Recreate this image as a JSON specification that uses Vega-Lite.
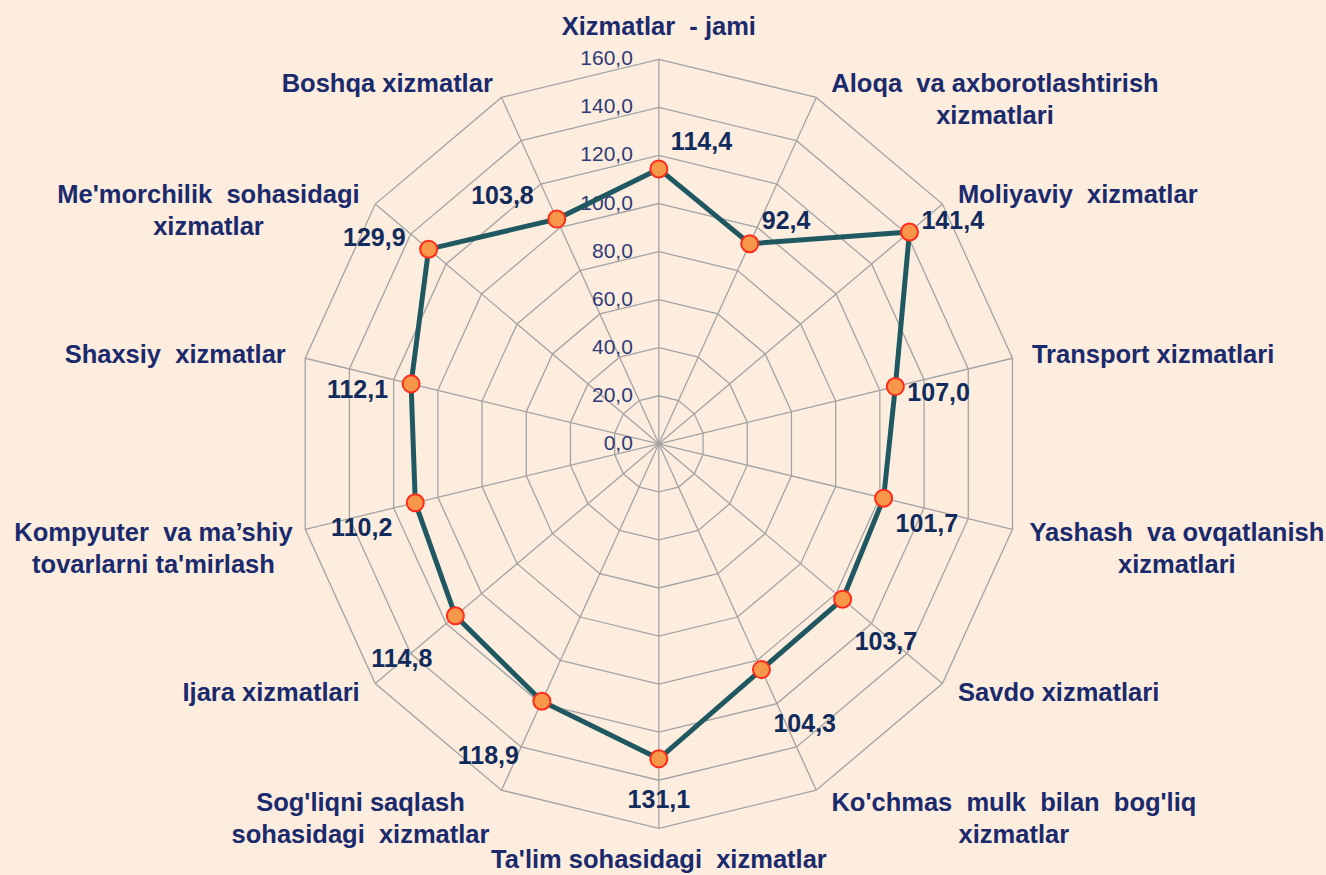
{
  "$schema": "https://vega.github.io/schema/vega-lite/v6.json",
  "width": 1326,
  "height": 875,
  "padding": 0,
  "autosize": {"type": "none"},
  "background": "#FDEDDE",
  "config": {"view": {"stroke": null}, "font": "Liberation Sans"},
  "datasets": {
    "svc": [
      {"i": 0, "cat": "Xizmatlar\u00a0 - jami", "v": 114.4},
      {"i": 1, "cat": "Aloqa\u00a0 va axborotlashtirish\nxizmatlari", "v": 92.4},
      {"i": 2, "cat": "Moliyaviy\u00a0 xizmatlar", "v": 141.4},
      {"i": 3, "cat": "Transport xizmatlari", "v": 107.0},
      {"i": 4, "cat": "Yashash\u00a0 va ovqatlanish\nxizmatlari", "v": 101.7},
      {"i": 5, "cat": "Savdo xizmatlari", "v": 103.7},
      {"i": 6, "cat": "Ko'chmas\u00a0 mulk\u00a0 bilan\u00a0 bog'liq\nxizmatlar", "v": 104.3},
      {"i": 7, "cat": "Ta'lim sohasidagi\u00a0 xizmatlar", "v": 131.1},
      {"i": 8, "cat": "Sog'liqni saqlash\nsohasidagi\u00a0 xizmatlar", "v": 118.9},
      {"i": 9, "cat": "Ijara xizmatlari", "v": 114.8},
      {"i": 10, "cat": "Kompyuter\u00a0 va ma’shiy\ntovarlarni ta'mirlash", "v": 110.2},
      {"i": 11, "cat": "Shaxsiy\u00a0 xizmatlar", "v": 112.1},
      {"i": 12, "cat": "Me'morchilik\u00a0 sohasidagi\nxizmatlar", "v": 129.9},
      {"i": 13, "cat": "Boshqa xizmatlar", "v": 103.8}
    ],
    "ticks": [
      {"lv": 0}, {"lv": 20}, {"lv": 40}, {"lv": 60}, {"lv": 80},
      {"lv": 100}, {"lv": 120}, {"lv": 140}, {"lv": 160}
    ]
  },
  "encoding": {
    "x": {"field": "px", "type": "quantitative", "scale": {"domain": [-290.63, 294.29], "nice": false, "zero": false}, "axis": null},
    "y": {"field": "py", "type": "quantitative", "scale": {"domain": [-179.44, 184.69], "nice": false, "zero": false}, "axis": null}
  },
  "layer": [
    {
      "data": {"name": "svc"},
      "transform": [
        {"calculate": "datum.i*2*PI/14", "as": "a"},
        {"calculate": "160*sin(datum.a)", "as": "px"},
        {"calculate": "160*cos(datum.a)", "as": "py"}
      ],
      "mark": {"type": "rule", "color": "#A3A3A3", "strokeWidth": 1.3},
      "encoding": {"x2": {"datum": 0}, "y2": {"datum": 0}}
    },
    {
      "data": {"name": "svc"},
      "transform": [
        {"calculate": "datum.i*2*PI/14", "as": "a"},
        {"calculate": "[20,40,60,80,100,120,140,160]", "as": "lvs"},
        {"flatten": ["lvs"]},
        {"calculate": "datum.lvs*sin(datum.a)", "as": "px"},
        {"calculate": "datum.lvs*cos(datum.a)", "as": "py"}
      ],
      "mark": {"type": "line", "interpolate": "linear-closed", "color": "#A3A3A3", "strokeWidth": 1.3},
      "encoding": {
        "detail": {"field": "lvs", "type": "nominal"},
        "order": {"field": "i", "type": "quantitative"}
      }
    },
    {
      "data": {"name": "ticks"},
      "transform": [
        {"calculate": "0", "as": "px"},
        {"calculate": "datum.lv", "as": "py"},
        {"calculate": "replace(format(datum.lv, '.1f'), '.', ',')", "as": "lab"}
      ],
      "mark": {"type": "text", "align": "right", "baseline": "middle", "dx": -26, "fontSize": 21, "color": "#2E3B78"},
      "encoding": {"text": {"field": "lab", "type": "nominal"}}
    },
    {
      "data": {"name": "svc"},
      "transform": [
        {"calculate": "datum.i*2*PI/14", "as": "a"},
        {"calculate": "datum.v*sin(datum.a)", "as": "px"},
        {"calculate": "datum.v*cos(datum.a)", "as": "py"}
      ],
      "mark": {"type": "line", "interpolate": "linear-closed", "color": "#205862", "strokeWidth": 5},
      "encoding": {"order": {"field": "i", "type": "quantitative"}}
    },
    {
      "data": {"name": "svc"},
      "transform": [
        {"calculate": "datum.i*2*PI/14", "as": "a"},
        {"calculate": "datum.v*sin(datum.a)", "as": "px"},
        {"calculate": "datum.v*cos(datum.a)", "as": "py"}
      ],
      "mark": {"type": "point", "shape": "circle", "filled": true, "size": 290, "fill": "#F7974A", "stroke": "#FF2B1B", "strokeWidth": 2, "opacity": 1}
    },
    {
      "data": {"name": "svc"},
      "transform": [
        {"filter": "datum.i <= 6"},
        {"calculate": "datum.i*2*PI/14", "as": "a"},
        {"calculate": "datum.v*sin(datum.a)", "as": "px"},
        {"calculate": "(datum.v+17.9)*cos(datum.a)", "as": "py"},
        {"calculate": "replace(format(datum.v, '.1f'), '.', ',')", "as": "lab"}
      ],
      "mark": {"type": "text", "align": "left", "baseline": "middle", "dx": 12, "dy": 16, "fontSize": 25, "fontWeight": "bold", "color": "#102B5C"},
      "encoding": {"text": {"field": "lab", "type": "nominal"}}
    },
    {
      "data": {"name": "svc"},
      "transform": [
        {"filter": "datum.i == 7"},
        {"calculate": "datum.i*2*PI/14", "as": "a"},
        {"calculate": "datum.v*sin(datum.a)", "as": "px"},
        {"calculate": "(datum.v+17)*cos(datum.a)", "as": "py"},
        {"calculate": "replace(format(datum.v, '.1f'), '.', ',')", "as": "lab"}
      ],
      "mark": {"type": "text", "align": "center", "baseline": "middle", "fontSize": 25, "fontWeight": "bold", "color": "#102B5C"},
      "encoding": {"text": {"field": "lab", "type": "nominal"}}
    },
    {
      "data": {"name": "svc"},
      "transform": [
        {"filter": "datum.i >= 8"},
        {"calculate": "datum.i*2*PI/14", "as": "a"},
        {"calculate": "datum.v*sin(datum.a)", "as": "px"},
        {"calculate": "(datum.v+17.9)*cos(datum.a)", "as": "py"},
        {"calculate": "replace(format(datum.v, '.1f'), '.', ',')", "as": "lab"}
      ],
      "mark": {"type": "text", "align": "right", "baseline": "middle", "dx": -23, "dy": 16, "fontSize": 25, "fontWeight": "bold", "color": "#102B5C"},
      "encoding": {"text": {"field": "lab", "type": "nominal"}}
    },
    {
      "data": {"name": "svc"},
      "transform": [
        {"filter": "indexof([2,3,5], datum.i) >= 0"},
        {"calculate": "datum.i*2*PI/14", "as": "a"},
        {"calculate": "168.8*sin(datum.a)", "as": "px"},
        {"calculate": "166*cos(datum.a)", "as": "py"}
      ],
      "mark": {"type": "text", "align": "left", "baseline": "middle", "fontSize": 25.5, "fontWeight": "bold", "color": "#1A2A6C"},
      "encoding": {"text": {"field": "cat", "type": "nominal"}}
    },
    {
      "data": {"name": "svc"},
      "transform": [
        {"filter": "indexof([9,11,13], datum.i) >= 0"},
        {"calculate": "datum.i*2*PI/14", "as": "a"},
        {"calculate": "168.8*sin(datum.a)", "as": "px"},
        {"calculate": "166*cos(datum.a)", "as": "py"}
      ],
      "mark": {"type": "text", "align": "right", "baseline": "middle", "fontSize": 25.5, "fontWeight": "bold", "color": "#1A2A6C"},
      "encoding": {"text": {"field": "cat", "type": "nominal"}}
    },
    {
      "data": {"name": "svc"},
      "transform": [
        {"filter": "indexof([0,1,4,6,7,8,10,12], datum.i) >= 0"},
        {"calculate": "datum.i*2*PI/14", "as": "a"},
        {"calculate": "split(datum.cat, '\\n')", "as": "lines"},
        {"calculate": "max(length(datum.lines[0]), length(datum.lines[1] || ''))*6.3/2.267", "as": "hw"},
        {"calculate": "168.8*sin(datum.a) + (abs(sin(datum.a)) < 0.1 ? 0 : (sin(datum.a) > 0 ? 1 : -1)*datum.hw)", "as": "px"},
        {"calculate": "((datum.i == 0 || datum.i == 7) ? 173.3 : 166)*cos(datum.a)", "as": "py"}
      ],
      "mark": {"type": "text", "align": "center", "baseline": "middle", "fontSize": 25.5, "fontWeight": "bold", "color": "#1A2A6C", "lineBreak": "\n", "lineHeight": 32},
      "encoding": {"text": {"field": "cat", "type": "nominal"}}
    }
  ]
}
